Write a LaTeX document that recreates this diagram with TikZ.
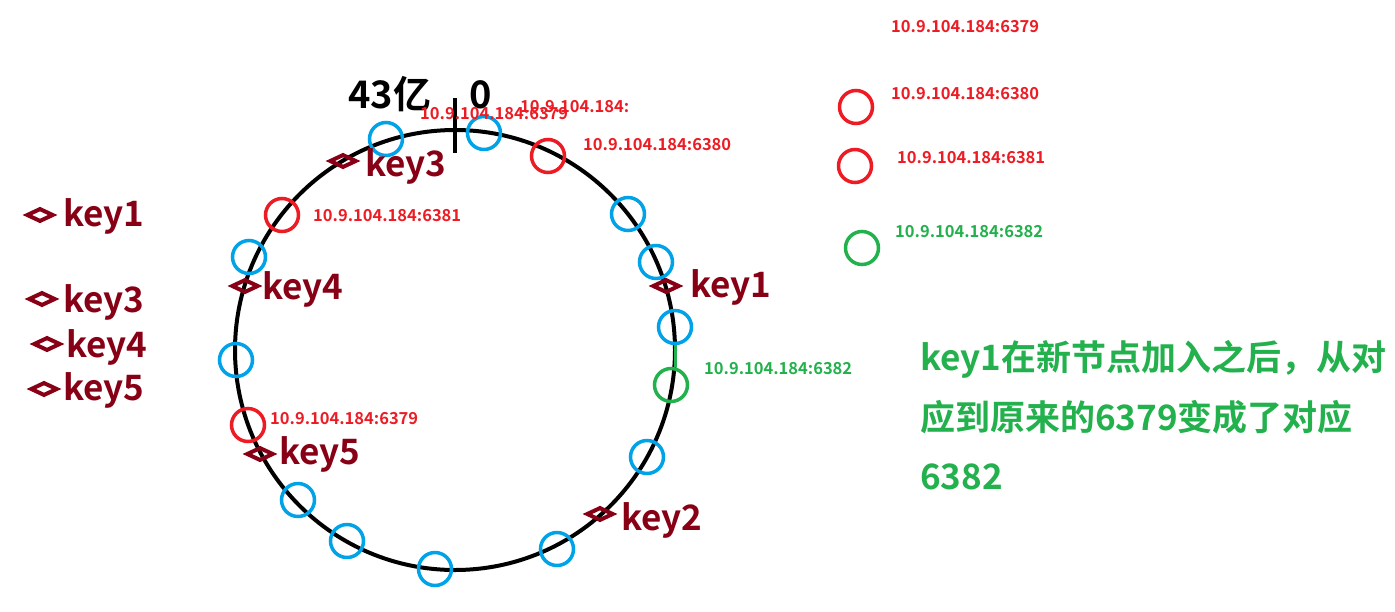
\documentclass[tikz,border=0pt]{standalone}
\usepackage{fontspec}
\setmainfont{Noto Sans CJK SC}[BoldFont={* Bold}]
\usetikzlibrary{shapes.geometric}
\definecolor{pred}{RGB}{237,28,36}
\definecolor{pblue}{RGB}{0,162,232}
\definecolor{pgreen}{RGB}{34,177,76}
\definecolor{pmaroon}{RGB}{136,0,21}
\tikzset{
  ringnode/.style={circle, draw, line width=3.5pt, minimum size=33pt, inner sep=0pt},
  bnode/.style={ringnode, draw=pblue},
  rnode/.style={ringnode, draw=pred},
  gnode/.style={ringnode, draw=pgreen},
  keymark/.style={diamond, draw=pmaroon, line width=4pt, minimum width=27pt, minimum height=13.5pt, inner sep=0pt},
  keytext/.style={text=pmaroon, font=\bfseries\fontsize{35}{40}\selectfont, anchor=base west, inner sep=0pt},
  iplabel/.style={font=\bfseries\fontsize{16.5}{19}\selectfont, anchor=base west, inner sep=0pt},
  redlabel/.style={iplabel, text=pred},
  greenlabel/.style={iplabel, text=pgreen},
  bigtext/.style={text=pgreen, font=\bfseries\fontsize{35}{40}\selectfont, anchor=base west, inner sep=0pt},
  zerotext/.style={anchor=base west, inner sep=0pt, font=\bfseries\fontsize{38}{44}\selectfont},
}
\begin{document}
\begin{tikzpicture}[x=1pt,y=-1pt]
\fill[white] (0,0) rectangle (1395,611);
\useasboundingbox (0,0) rectangle (1395,611);
% ring
\node[circle, draw=black, line width=4pt, minimum size=440pt, inner sep=0pt] (ring) at (455,350) {};
% tick at 0
\coordinate (tickTop) at (455,98);
\coordinate (tickBot) at (455,153);
\draw[line width=4pt] (tickTop) -- (tickBot);
\node[zerotext] (yi) at (348,108) {43亿};
\node[zerotext] (zero) at (469,108) {0};
% nodes on ring
\node[bnode] (b1) at (386,139) {};
\node[bnode] (b2) at (484,133) {};
\node[rnode] (r1) at (548,156) {};
\node[bnode] (b3) at (628,214) {};
\node[bnode] (b4) at (656,262) {};
\node[bnode] (b5) at (675,327) {};
\node[gnode] (g1) at (671,385) {};
\node[bnode] (b6) at (647,457) {};
\node[bnode] (b7) at (557,549) {};
\node[bnode] (b8) at (435,569) {};
\node[bnode] (b9) at (347,541) {};
\node[bnode] (b10) at (298,500) {};
\node[rnode] (r2) at (248,425) {};
\node[bnode] (b11) at (236,360) {};
\node[bnode] (b12) at (249,257) {};
\node[rnode] (r3) at (282,215) {};
\draw[pgreen, line width=3pt] (b5.south) -- (b5.south |- g1.north);
% side nodes
\node[rnode] (sr1) at (856,107) {};
\node[rnode] (sr2) at (855,166) {};
\node[gnode] (sg1) at (862,248) {};
% keys on ring
\node[keymark] (k3m) at (343,161) {};
\node[keytext] (k3t) at (365,176) {key3};
\node[keymark] (k1m) at (666,286) {};
\node[keytext] (k1t) at (690,297) {key1};
\node[keymark] (k4m) at (245,286) {};
\node[keytext] (k4t) at (262,299) {key4};
\node[keymark] (k5m) at (260,454) {};
\node[keytext] (k5t) at (279,464) {key5};
\node[keymark] (k2m) at (600,514) {};
\node[keytext] (k2t) at (621,530) {key2};
% keys at left
\node[keymark] (lk1m) at (40,215) {};
\node[keytext] (lk1t) at (63,226) {key1};
\node[keymark] (lk3m) at (42,299) {};
\node[keytext] (lk3t) at (63,312) {key3};
\node[keymark] (lk4m) at (47,344) {};
\node[keytext] (lk4t) at (66,357) {key4};
\node[keymark] (lk5m) at (44,389) {};
\node[keytext] (lk5t) at (63,400) {key5};
% ip labels near ring
\node[redlabel] (l1) at (420,119) {10.9.104.184:6379};
\node[redlabel] (l2) at (520,112) {10.9.104.184:};
\node[redlabel] (l3) at (583,150) {10.9.104.184:6380};
\node[redlabel] (l4) at (313,221) {10.9.104.184:6381};
\node[redlabel] (l5) at (270,424) {10.9.104.184:6379};
\node[greenlabel] (l6) at (704,374) {10.9.104.184:6382};
% ip labels at right
\node[redlabel] (s1) at (891,32) {10.9.104.184:6379};
\node[redlabel] (s2) at (891,99) {10.9.104.184:6380};
\node[redlabel] (s3) at (897,163) {10.9.104.184:6381};
\node[greenlabel] (s4) at (895,237) {10.9.104.184:6382};
% note
\node[bigtext] (n1) at (920,370) {key1在新节点加入之后，从对};
\node[bigtext] (n2) at (920,430) {应到原来的6379变成了对应};
\node[bigtext] (n3) at (920,489) {6382};
\end{tikzpicture}
\end{document}
